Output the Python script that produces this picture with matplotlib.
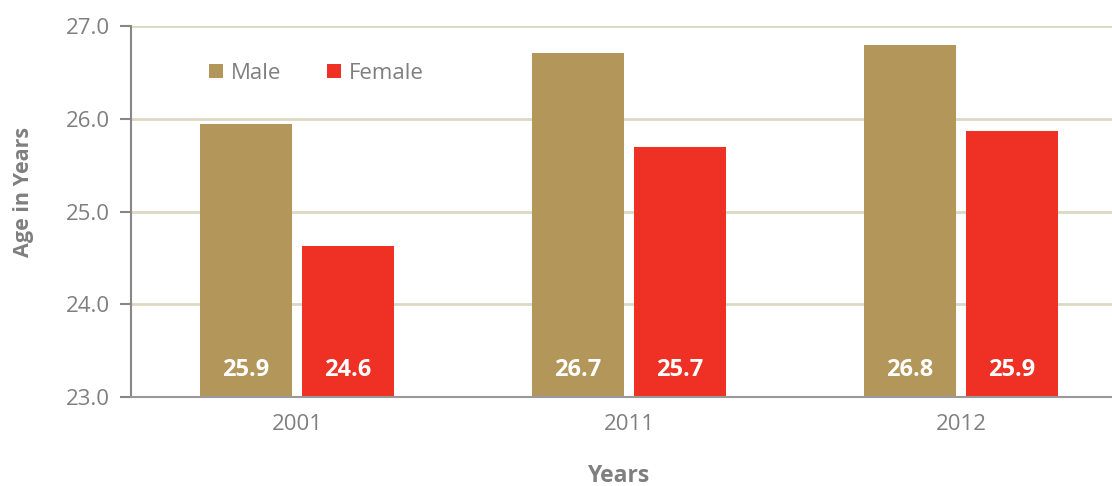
import numpy as np
import matplotlib.pyplot as plt

# datos
years = ['2001', '2011', '2012']
male = [25.94, 26.71, 26.79]
female = [24.63, 25.70, 25.87]
male_lbl = ['25.9', '26.7', '26.8']
female_lbl = ['24.6', '25.7', '25.9']

plt.rcParams['font.family'] = ['Open Sans', 'DejaVu Sans']
gris = '#7f7f7f'
c_male = '#b39659'
c_female = '#ee3124'

W, H = 1112, 486
fig = plt.figure(figsize=(W / 100, H / 100), dpi=100)
# el eje derecho queda recortado por el borde de la imagen
ax = fig.add_axes([131 / W, 1 - 397 / H, 996 / W, 371 / H])

x = np.arange(len(years))
ancho = 0.277
off = 0.1536
b1 = ax.bar(x - off, [m - 23 for m in male], ancho, bottom=23, color=c_male, label='Male', zorder=2)
b2 = ax.bar(x + off, [f - 23 for f in female], ancho, bottom=23, color=c_female, label='Female', zorder=2)

for i in range(len(years)):
    ax.text(x[i] - off, 23.29, male_lbl[i], ha='center', va='center', color='white',
            fontsize=17, fontweight='bold', zorder=3)
    ax.text(x[i] + off, 23.29, female_lbl[i], ha='center', va='center', color='white',
            fontsize=17, fontweight='bold', zorder=3)

ax.set_xlim(-0.5, 2.5)
ax.set_ylim(23, 27)
ax.set_yticks([23, 24, 25, 26, 27])
ax.set_yticklabels(['23.0', '24.0', '25.0', '26.0', '27.0'])
ax.set_xticks(x)
ax.set_xticklabels(years)
ax.tick_params(axis='y', colors=gris, labelsize=16, length=8, width=1.5, pad=7, color='#878787')
ax.tick_params(axis='x', colors=gris, labelsize=16, length=0, pad=12)
ax.yaxis.grid(True, color='#ddd8c4', linewidth=2, zorder=0)
ax.set_axisbelow(True)
for s in ['top', 'right']:
    ax.spines[s].set_visible(False)
ax.spines['left'].set_color('#878787')
ax.spines['left'].set_linewidth(1.5)
ax.spines['bottom'].set_color('#999999')
ax.spines['bottom'].set_linewidth(1.5)

fig.text(24 / W, 1 - 192 / H, 'Age in Years', rotation=90, ha='center', va='center',
         color=gris, fontsize=15.5, fontweight='bold')
fig.text(618 / W, 1 - 476 / H, 'Years', ha='center', va='center',
         color=gris, fontsize=16.5, fontweight='bold')

leg = ax.legend(loc='upper left', bbox_to_anchor=(69 / 996, 1 - 28 / 371), ncol=2, frameon=False,
                fontsize=16, handlelength=0.62, handleheight=0.62, columnspacing=2.1,
                handletextpad=0.35, borderaxespad=0)
for t in leg.get_texts():
    t.set_color(gris)

fig.savefig('out.png', dpi=100)
